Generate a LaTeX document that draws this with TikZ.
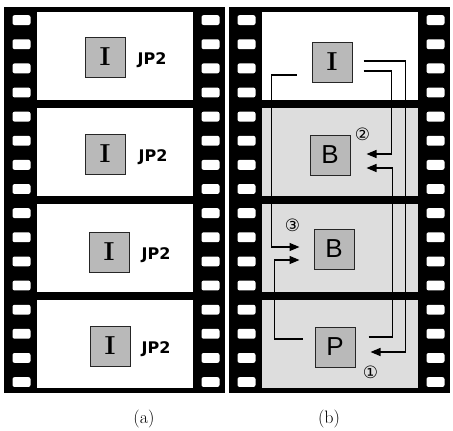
\documentclass[tikz,border=0pt]{standalone}
\usepackage{fontspec}
\newfontfamily\boxsans{Liberation Sans}
\newfontfamily\dejavu{DejaVu Sans}
\usetikzlibrary{arrows.meta, calc}

\begin{document}
\begin{tikzpicture}[x=1pt, y=-1pt,
    film/.style={fill=black},
    hole/.style={fill=white, rounded corners=2pt},
    clear/.style={fill=white},
    shaded/.style={fill=gray!27},
    frmbox/.style={rectangle, draw=black!85, line width=1pt,
                   fill=gray!55, minimum width=40pt,
                   minimum height=40pt, inner sep=0pt},
    ibox/.style={frmbox, font=\bfseries\fontsize{26}{26}\selectfont},
    sbox/.style={frmbox, font=\boxsans\fontsize{26}{26}\selectfont},
    jp/.style={font=\dejavu\bfseries\fontsize{16}{16}\selectfont},
    num/.style={font=\dejavu\fontsize{17}{17}\selectfont, inner sep=0pt},
    subcap/.style={font=\fontsize{18}{18}\selectfont},
    link/.style={line width=1.3pt},
    arr/.style={link, -{Triangle[length=10pt, width=8pt]}}
]
    \useasboundingbox (0,0) rectangle (453,431);

    \foreach \sx in {4,229} {
        \fill[film] (\sx,7) rectangle ++(221,386);
        \foreach \k in {0,...,15} {
            \fill[hole] (\sx+8.5,15.2+24.13*\k) rectangle ++(18,9.8);
            \fill[hole] (\sx+197.5,15.2+24.13*\k) rectangle ++(18,9.8);
        }
    }
    \foreach \k in {0,...,3}
        \fill[clear] (37,12+96*\k) rectangle ++(156,88);
    \fill[clear] (262,12) rectangle ++(156,88);
    \foreach \k in {1,...,3}
        \fill[shaded] (262,12+96*\k) rectangle ++(156,88);

    \node[ibox] (ia1) at (105,57) {I};
    \node[ibox] (ia2) at (105,154) {I};
    \node[ibox] (ia3) at (109,252) {I};
    \node[ibox] (ia4) at (110,346) {I};
    \node[jp] (ja1) at (152,60) {JP2};
    \node[jp] (ja2) at (153,157) {JP2};
    \node[jp] (ja3) at (156,255) {JP2};
    \node[jp] (ja4) at (156,349) {JP2};

    \node[ibox] (bi) at (332,62) {I};
    \node[sbox] (bb1) at (330,155) {B};
    \node[sbox] (bb2) at (334,249) {B};
    \node[sbox] (bp) at (335,347) {P};

    \draw[arr] ($(bi.east)+(11,-1)$) -- ++(42,0)
        |- ($(bp.east)+(15,5)$);
    \draw[arr] ($(bi.east)+(11,9)$) -- ++(28,0)
        |- ($(bb1.east)+(16,-1)$);
    \draw[arr] ($(bp.east)+(13,-10)$) -- ++(24,0)
        |- ($(bb1.east)+(16,13)$);
    \draw[arr] ($(bi.west)+(-15,13)$) -- ++(-25,0)
        |- ($(bb2.west)+(-14,-2)$);
    \draw[arr] ($(bp.west)+(-12,-8)$) -- ++(-28,0)
        |- ($(bb2.west)+(-14,11)$);

    \node[num] (n2) at ($(bb1.north east)+(12,0)$) {②};
    \node[num] (n3) at ($(bb2.north west)+(-21,-3)$) {③};
    \node[num] (n1) at ($(bp.south east)+(15,5)$) {①};

    \node[subcap] (ca) at (144,419) {(a)};
    \node[subcap] (cb) at (329,419) {(b)};
\end{tikzpicture}
\end{document}
